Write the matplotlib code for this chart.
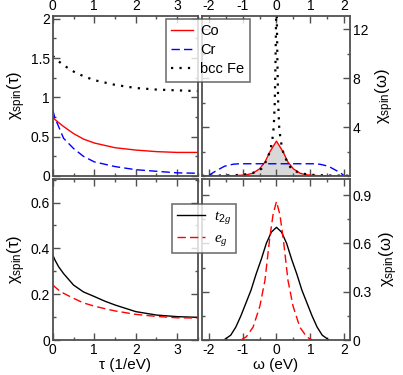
import matplotlib
matplotlib.use('Agg')
import matplotlib.pyplot as plt
from matplotlib.ticker import MultipleLocator, FormatStrFormatter
from matplotlib.lines import Line2D

plt.rcParams['font.family'] = ['Liberation Sans', 'DejaVu Sans']
plt.rcParams['mathtext.fontset'] = 'custom'
plt.rcParams['mathtext.rm'] = 'Liberation Sans'
plt.rcParams['mathtext.it'] = 'Liberation Serif:italic'
plt.rcParams['axes.unicode_minus'] = False

# imaginary time data (top-left)
tau = [0, 0.05, 0.14, 0.26, 0.5, 0.74, 1.0, 1.25, 1.5, 2.0, 2.5, 3.0, 3.5]
co_tau = [0.75, 0.72, 0.68, 0.63, 0.54, 0.47, 0.42, 0.39, 0.36, 0.33, 0.31, 0.30, 0.30]
cr_tau = [0.84, 0.74, 0.63, 0.48, 0.35, 0.25, 0.18, 0.15, 0.12, 0.08, 0.06, 0.04, 0.035]
fe_tau = [1.53, 1.50, 1.46, 1.41, 1.33, 1.27, 1.22, 1.19, 1.16, 1.12, 1.10, 1.09, 1.08]

# orbital resolved (bottom-left)
t2g_tau = [0.371, 0.35, 0.32, 0.29, 0.24, 0.21, 0.19, 0.17, 0.153, 0.124, 0.109, 0.102, 0.099]
eg_tau = [0.24, 0.232, 0.218, 0.204, 0.182, 0.162, 0.148, 0.137, 0.127, 0.112, 0.103, 0.097, 0.096]

# real frequency data (top-right)
omega_co = [-2.2, -1.6, -1.2, -0.9, -0.7, -0.5, -0.34, -0.2, -0.1, 0, 0.1, 0.2, 0.34, 0.5, 0.7, 0.9, 1.2, 1.6, 2.2]
co_w = [0, 0.01, 0.03, 0.09, 0.22, 0.58, 1.13, 1.95, 2.4, 2.85, 2.4, 1.95, 1.13, 0.58, 0.22, 0.09, 0.03, 0.01, 0]

omega_cr = [-2.0, -1.93, -1.77, -1.53, -1.28, -1.1, 0, 1.1, 1.28, 1.53, 1.77, 1.93, 2.0]
cr_w = [0, 0.17, 0.44, 0.8, 0.96, 1.0, 1.0, 1.0, 0.96, 0.8, 0.44, 0.17, 0]

omega_fe = [-2.2, -1.6, -1.3, -1.0, -0.85, -0.7, -0.55, -0.44, -0.35, -0.26, -0.18, -0.12, -0.08,
            -0.05, -0.03, -0.015, 0, 0.015, 0.03, 0.05, 0.08, 0.12, 0.18, 0.26, 0.35, 0.44, 0.55,
            0.7, 0.85, 1.0, 1.3, 1.6, 2.2]
fe_w = [0.02, 0.04, 0.06, 0.1, 0.16, 0.25, 0.4, 0.6, 0.95, 1.5, 2.1, 3.0, 4.0,
        6.0, 9.0, 12.0, 15.0, 12.0, 9.0, 6.0, 4.0, 3.0, 2.1, 1.5, 0.95, 0.6, 0.4,
        0.25, 0.16, 0.1, 0.06, 0.04, 0.02]

# orbital resolved (bottom-right)
omega_t2g = [-1.55, -1.35, -1.2, -1.05, -0.9, -0.75, -0.6, -0.45, -0.3, -0.15, 0,
             0.15, 0.3, 0.45, 0.6, 0.75, 0.9, 1.05, 1.2, 1.35, 1.55]
t2g_w = [0, 0.03, 0.08, 0.15, 0.23, 0.31, 0.41, 0.5, 0.6, 0.67, 0.70,
         0.67, 0.6, 0.5, 0.41, 0.31, 0.23, 0.15, 0.08, 0.03, 0]
omega_eg = [-1.05, -0.89, -0.69, -0.49, -0.34, -0.2, -0.1, 0, 0.1, 0.2, 0.34, 0.49, 0.69, 0.89, 1.05]
eg_w = [0, 0.02, 0.08, 0.21, 0.37, 0.63, 0.78, 0.86, 0.78, 0.63, 0.37, 0.21, 0.08, 0.02, 0]

fig = plt.figure(figsize=(4.03, 3.75), dpi=100)
x0, xm, x1 = 0.131, 0.501, 0.8685
w1, w2 = 0.491 - x0, x1 - xm
ax_tl = fig.add_axes([x0, 0.5307, w1, 0.4274])
ax_tr = fig.add_axes([xm, 0.5307, w2, 0.4274])
ax_bl = fig.add_axes([x0, 0.0933, w1, 0.4294])
ax_br = fig.add_axes([xm, 0.0933, w2, 0.4294])

spine_col = '#505050'
dotted = (0, (1, 2.8))
fe_lw = 1.6
for ax in (ax_tl, ax_tr, ax_bl, ax_br):
    ax.tick_params(which='both', direction='in', top=True, right=True, bottom=True, left=True,
                   labelsize=10, color=spine_col, pad=2)
    ax.tick_params(which='major', length=5, width=1)
    ax.tick_params(which='minor', length=2.5, width=1)
    for s in ax.spines.values():
        s.set_linewidth(1.3)
        s.set_color(spine_col)
    ax.yaxis.set_major_formatter(FormatStrFormatter('%g'))

# top-left
ax_tl.plot(tau, co_tau, color='red', lw=1.0, label='Co')
ax_tl.plot(tau, cr_tau, color='blue', lw=1.0, dashes=(6, 3), label='Cr')
ax_tl.plot(tau, fe_tau, color='black', lw=fe_lw, ls=dotted, label='bcc Fe')
ax_tl.set_xlim(0, 3.5)
ax_tl.set_ylim(0, 2.04)
ax_tl.xaxis.set_major_locator(MultipleLocator(1))
ax_tl.xaxis.set_minor_locator(MultipleLocator(0.5))
ax_tl.yaxis.set_major_locator(MultipleLocator(0.5))
ax_tl.yaxis.set_minor_locator(MultipleLocator(0.25))
ax_tl.tick_params(labeltop=True, labelbottom=False)
ax_tl.set_ylabel('χ$_{\\mathrm{spin}}$(τ)', fontsize=12, labelpad=2)

# top-right
ax_tr.fill_between(omega_co, 0, co_w, color='#d8d8d8', lw=0)
ax_tr.plot(omega_co, co_w, color='red', lw=1.0)
ax_tr.plot(omega_cr, cr_w, color='blue', lw=1.0, dashes=(6, 3))
ax_tr.plot(omega_fe, fe_w, color='black', lw=fe_lw, ls=dotted)
ax_tr.set_xlim(-2.2, 2.17)
ax_tr.set_ylim(0, 13.1)
ax_tr.xaxis.set_major_locator(MultipleLocator(1))
ax_tr.xaxis.set_minor_locator(MultipleLocator(0.5))
ax_tr.set_yticks([4, 8, 12])
ax_tr.yaxis.set_minor_locator(MultipleLocator(2))
ax_tr.tick_params(labeltop=True, labelbottom=False, labelright=True, labelleft=False)
ax_tr.yaxis.set_label_position('right')
ax_tr.set_ylabel('χ$_{\\mathrm{spin}}$(ω)', fontsize=12, labelpad=4)

# bottom-left
ax_bl.plot(tau, t2g_tau, color='black', lw=1.0)
ax_bl.plot(tau, eg_tau, color='red', lw=1.0, dashes=(6, 3))
ax_bl.set_xlim(0, 3.5)
ax_bl.set_ylim(0, 0.703)
ax_bl.xaxis.set_major_locator(MultipleLocator(1))
ax_bl.xaxis.set_minor_locator(MultipleLocator(0.5))
ax_bl.yaxis.set_major_locator(MultipleLocator(0.2))
ax_bl.yaxis.set_minor_locator(MultipleLocator(0.1))
ax_bl.set_xlabel('τ (1/eV)', fontsize=11, labelpad=1)
ax_bl.set_ylabel('χ$_{\\mathrm{spin}}$(τ)', fontsize=12, labelpad=2)

# bottom-right
ax_br.plot(omega_t2g, t2g_w, color='black', lw=1.0)
ax_br.plot(omega_eg, eg_w, color='red', lw=1.0, dashes=(6, 3))
ax_br.set_xlim(-2.2, 2.17)
ax_br.set_ylim(0, 1.0)
ax_br.xaxis.set_major_locator(MultipleLocator(1))
ax_br.xaxis.set_minor_locator(MultipleLocator(0.5))
ax_br.yaxis.set_major_locator(MultipleLocator(0.3))
ax_br.yaxis.set_minor_locator(MultipleLocator(0.15))
ax_br.tick_params(labelright=True, labelleft=False)
ax_br.yaxis.set_label_position('right')
ax_br.set_xlabel('ω (eV)', fontsize=11, labelpad=1)
ax_br.set_ylabel('χ$_{\\mathrm{spin}}$(ω)', fontsize=12, labelpad=4)

# legends drawn at figure level so they sit over both panels
h_top = [Line2D([], [], color='red', lw=1.0),
         Line2D([], [], color='blue', lw=1.0, dashes=(6, 3)),
         Line2D([], [], color='black', lw=fe_lw, ls=dotted)]
leg1 = fig.legend(h_top, ['Co', 'Cr', 'bcc Fe'], loc='upper left',
                  bbox_to_anchor=(0.412, 0.949), bbox_transform=fig.transFigure,
                  fontsize=10.5, frameon=True, fancybox=False, borderaxespad=0,
                  handlelength=1.5, handletextpad=0.5, labelspacing=0.35, borderpad=0.35)
leg1.get_frame().set_edgecolor(spine_col)
leg1.get_frame().set_linewidth(1.2)

h_bot = [Line2D([], [], color='black', lw=1.0),
         Line2D([], [], color='red', lw=1.0, dashes=(6, 3))]
leg2 = fig.legend(h_bot, ['$t_{2g}$', '$e_g$'], loc='upper left',
                  bbox_to_anchor=(0.426, 0.456), bbox_transform=fig.transFigure,
                  fontsize=11, frameon=True, fancybox=False, borderaxespad=0,
                  handlelength=1.8, handletextpad=0.6, labelspacing=0.3, borderpad=0.35)
leg2.get_frame().set_edgecolor(spine_col)
leg2.get_frame().set_linewidth(1.2)

fig.savefig('out.png', dpi=100)
